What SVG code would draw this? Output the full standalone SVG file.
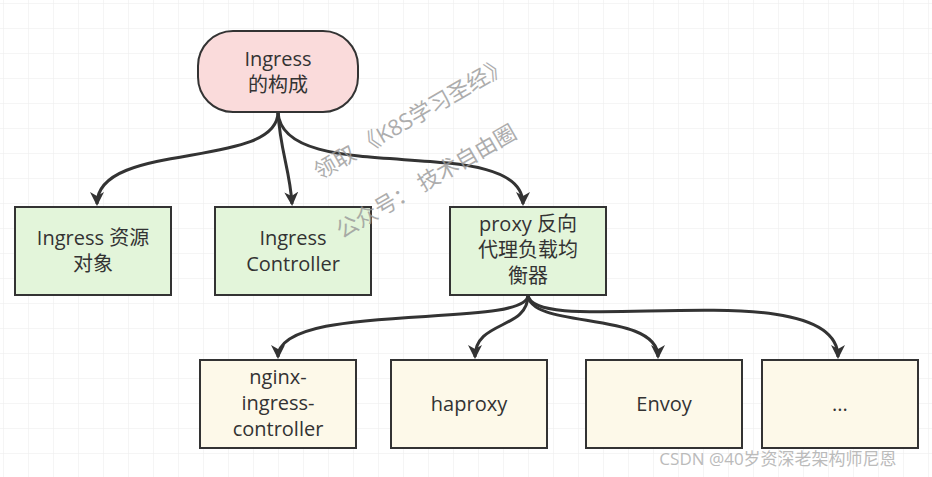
<svg xmlns="http://www.w3.org/2000/svg" width="932" height="477" viewBox="0 0 932 477">
<defs>
<pattern id="grid" width="25" height="25" patternUnits="userSpaceOnUse" x="3" y="3"><path d="M25 0H0V25" fill="none" stroke="#ebebeb" stroke-width="1"/></pattern>
<marker id="ah" markerWidth="14" markerHeight="16" refX="12" refY="8" orient="auto" markerUnits="userSpaceOnUse"><path d="M0,1 L14,8 L0,15 L4,8 Z" fill="#333"/></marker>
<style>
.n{stroke:#333;stroke-width:2}
.g{fill:#e3f5da}.y{fill:#fdf9e9}
text{font-family:"Open Sans","Noto Sans CJK SC",sans-serif;font-size:20px;fill:#333;text-anchor:middle}
.c{fill:none;stroke:#333;stroke-width:3;marker-end:url(#ah)}
.w{fill:#999;font-size:22px;opacity:0.8}
</style>
</defs>
<rect width="932" height="477" fill="#fff"/>
<rect width="932" height="477" fill="url(#grid)"/>
<g id="connectors">
<path class="c" d="M278,112 C278,170 97,140 97,204"/>
<path class="c" d="M278,112 C280,150 290,170 292,204"/>
<path class="c" d="M278,112 C282,190 523,130 523,204"/>
<path class="c" d="M528,295 C528,330 278,300 278,357"/>
<path class="c" d="M528,295 C528,330 475,320 475,357"/>
<path class="c" d="M528,295 C530,330 658,310 658,357"/>
<path class="c" d="M528,295 C532,340 838,270 838,357"/>
</g>
<g id="root"><rect class="n" x="198" y="31" width="160" height="81" rx="35" fill="#fadbdb" stroke-width="3"/><text x="278" y="66">Ingress</text><text x="278" y="92">的构成</text></g>
<g id="res"><rect class="n g" x="15" y="207" width="156" height="88"/><text x="93" y="245">Ingress 资源</text><text x="93" y="271">对象</text></g>
<g id="ctrl"><rect class="n g" x="215" y="207" width="156" height="88"/><text x="293" y="245">Ingress</text><text x="293" y="271">Controller</text></g>
<g id="proxy"><rect class="n g" x="450" y="207" width="156" height="88"/><text x="528" y="231">proxy 反向</text><text x="528" y="257">代理负载均</text><text x="528" y="283">衡器</text></g>
<g id="nginx"><rect class="n y" x="200" y="360" width="156" height="88"/><text x="278" y="384">nginx-</text><text x="278" y="410">ingress-</text><text x="278" y="436">controller</text></g>
<g id="haproxy"><rect class="n y" x="391" y="360" width="156" height="88"/><text x="469" y="411">haproxy</text></g>
<g id="envoy"><rect class="n y" x="586" y="360" width="156" height="88"/><text x="664" y="411">Envoy</text></g>
<g id="more"><rect class="n y" x="762" y="360" width="156" height="88"/><text x="840" y="411">...</text></g>
<g id="watermark">
<text class="w" transform="translate(415,125) rotate(-30)">领取 《K8S学习圣经》</text>
<text class="w" transform="translate(430,188) rotate(-30)">公众号： 技术自由圈</text>
<text x="778" y="465" style="font-size:17px;fill:#bbb">CSDN @40岁资深老架构师尼恩</text>
</g>
</svg>
